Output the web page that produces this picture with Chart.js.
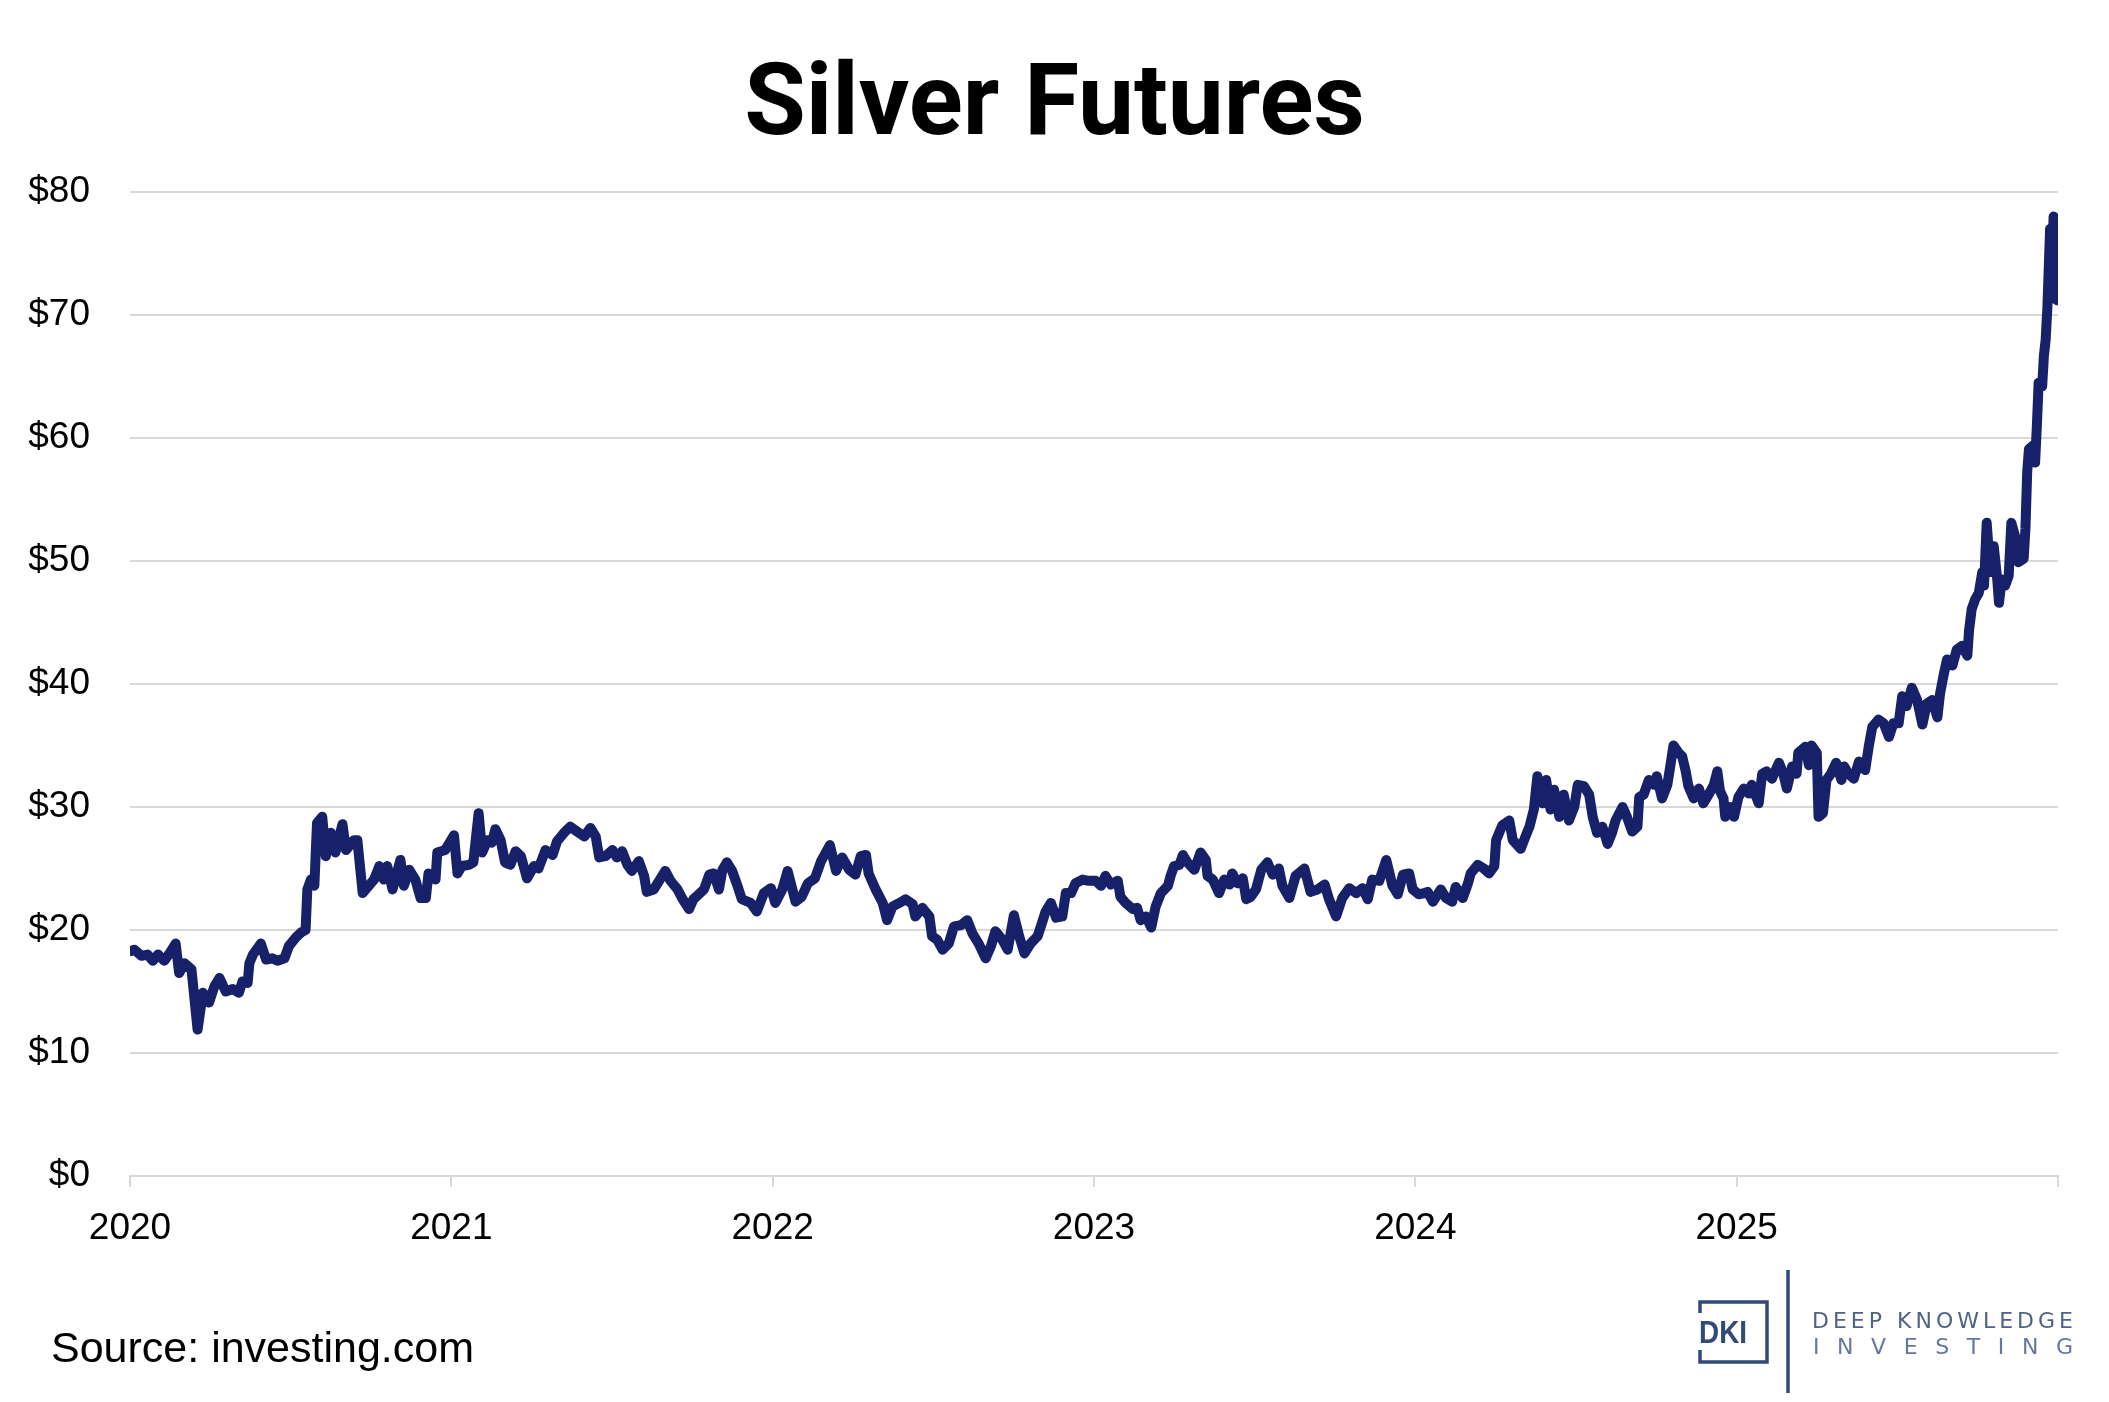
<!DOCTYPE html>
<html>
<head>
<meta charset="utf-8">
<title>Silver Futures</title>
<script src="https://cdn.jsdelivr.net/npm/chart.js@4.4.1/dist/chart.umd.min.js"></script>
<style>
  html, body { margin: 0; padding: 0; background: #fff; }
  canvas { display: block; }
</style>
</head>
<body>
<canvas id="chart" width="2109" height="1402"></canvas>
<script>
// year tick labels (the closing 2026 tick has no label)
const yearLabels = ["2020", "2021", "2022", "2023", "2024", "2025"];

// silver futures, USD/oz (month-day per year)
const days2020 = ["01-02","01-06","01-14","01-21","01-27","02-02","02-09","02-15","02-22","02-26","03-03","03-11","03-18","03-24","03-31","04-06","04-12","04-19","04-27","05-04","05-08","05-14","05-16","05-20","05-29","06-04","06-11","06-17","06-25","06-30","07-08","07-14","07-19","07-21","07-25","07-29","08-01","08-07","08-11","08-17","08-22","08-30","09-03","09-12","09-16","09-22","09-29","10-05","10-11","10-16","10-20","10-26","11-04","11-08","11-14","11-21","11-27","12-03","12-06","12-14","12-16","12-25"];
const price2020 = [18.3,18.4,17.9,18.0,17.5,18.0,17.5,18.1,18.9,16.5,17.3,16.8,11.9,14.9,14.1,15.4,16.1,15.0,15.2,14.9,15.8,15.7,17.3,18.0,18.9,17.6,17.7,17.5,17.7,18.7,19.4,19.8,20.0,23.3,24.1,23.6,28.7,29.2,26.0,27.9,26.3,28.6,26.5,27.3,27.3,23.0,23.6,24.1,25.2,24.1,25.2,23.3,25.7,23.6,24.9,24.1,22.6,22.6,24.6,24.1,26.3,26.5];

const days2021 = ["01-04","01-08","01-13","01-21","01-26","02-01","02-05","02-11","02-16","02-20","02-26","03-03","03-09","03-15","03-21","03-28","04-05","04-10","04-18","04-26","05-01","05-09","05-16","05-24","06-01","06-08","06-14","06-18","06-25","07-03","07-08","07-14","07-20","07-25","08-02","08-08","08-11","08-19","08-25","09-01","09-07","09-15","09-20","09-28","10-03","10-09","10-15","10-21","10-26","11-01","11-05","11-10","11-16","11-22","11-27","12-07","12-14","12-22","12-30"];
const price2021 = [27.7,24.6,25.2,25.3,25.5,29.5,26.3,27.3,27.1,28.2,27.3,25.5,25.3,26.4,26.0,24.2,25.2,25.0,26.5,26.1,27.2,27.9,28.4,28.0,27.6,28.3,27.6,25.9,26.0,26.5,25.9,26.4,25.3,24.8,25.6,24.4,23.1,23.3,24.0,24.8,24.0,23.3,22.6,21.7,22.5,22.9,23.3,24.5,24.6,23.3,24.9,25.5,24.8,23.6,22.5,22.2,21.5,23.0,23.4];

const days2022 = ["01-04","01-12","01-18","01-27","02-03","02-10","02-18","02-25","03-07","03-14","03-21","03-29","04-05","04-11","04-17","04-20","04-28","05-06","05-11","05-17","05-25","06-01","06-09","06-12","06-20","06-28","07-01","07-07","07-13","07-20","07-26","08-03","08-10","08-16","08-23","08-31","09-06","09-11","09-19","09-25","10-02","10-08","10-14","10-21","10-29","11-03","11-07","11-13","11-19","11-26","11-30","12-06","12-11","12-19","12-26"];
const price2022 = [22.2,23.3,24.8,22.3,22.7,23.8,24.2,25.6,26.9,24.8,25.9,24.9,24.5,26.0,26.1,24.6,23.3,22.2,20.8,21.9,22.2,22.5,22.1,21.1,21.8,21.1,19.5,19.2,18.4,18.9,20.3,20.4,20.8,19.7,18.9,17.7,18.7,19.9,19.2,18.4,21.2,19.5,18.1,18.9,19.5,20.6,21.5,22.2,21.0,21.1,23.0,23.0,23.8,24.1,24.0];

const days2023 = ["01-03","01-09","01-14","01-20","01-28","01-31","02-06","02-14","02-19","02-23","03-01","03-07","03-12","03-18","03-26","03-29","04-02","04-08","04-12","04-17","04-25","04-29","05-02","05-08","05-10","05-16","05-23","05-29","06-04","06-07","06-13","06-19","06-23","06-28","07-04","07-10","07-17","07-23","07-30","08-03","08-11","08-18","08-28","09-04","09-12","09-20","09-25","10-03","10-10","10-18","10-26","11-02","11-08","11-13","11-21","11-29","12-06","12-12","12-18","12-25","12-29"];
const price2023 = [24.0,23.6,24.4,23.7,24.0,22.7,22.2,21.7,21.8,20.8,21.1,20.2,21.9,23.0,23.6,24.4,25.2,25.3,26.1,25.5,24.9,25.7,26.3,25.7,24.4,24.1,23.0,24.1,23.7,24.6,23.8,24.2,22.5,22.7,23.3,24.9,25.5,24.5,25.0,23.6,22.6,24.4,25.0,23.1,23.3,23.7,22.5,21.1,22.6,23.4,23.0,23.4,22.5,24.1,24.0,25.7,23.6,22.9,24.5,24.6,23.3];

const days2024 = ["01-05","01-11","01-15","01-21","01-30","02-05","02-12","02-16","02-24","03-01","03-04","03-12","03-19","03-25","03-31","04-02","04-09","04-17","04-21","04-30","05-06","05-10","05-15","05-19","05-25","05-29","06-03","06-07","06-13","06-18","06-24","06-30","07-04","07-11","07-17","07-21","07-26","08-01","08-07","08-12","08-16","08-24","08-29","09-04","09-10","09-12","09-17","09-23","09-29","10-02","10-08","10-14","10-18","10-21","10-27","10-31","11-04","11-07","11-13","11-19","11-24","11-30","12-06","12-10","12-13","12-17","12-19","12-25","12-29"];
const price2024 = [22.9,23.0,23.1,22.3,23.3,22.6,22.3,23.5,22.6,23.8,24.6,25.3,25.0,24.6,25.2,27.3,28.5,28.9,27.3,26.6,27.7,28.4,29.8,32.5,30.3,32.2,29.8,31.4,29.2,31.0,28.9,30.0,31.8,31.7,31.0,29.2,27.9,28.4,27.0,27.9,28.9,30.0,29.2,28.0,28.4,30.8,31.0,32.2,31.8,32.5,30.7,31.8,33.6,35.0,34.4,34.1,32.9,31.7,30.7,31.5,30.3,31.0,31.8,32.9,31.3,30.7,29.2,30.0,29.2];

const days2025 = ["01-03","01-09","01-15","01-18","01-26","01-30","02-04","02-10","02-18","02-23","02-27","03-05","03-10","03-12","03-20","03-24","03-27","04-02","04-04","04-09","04-13","04-18","04-24","04-30","05-03","05-08","05-14","05-20","05-27","05-31","06-04","06-11","06-17","06-23","06-28","07-04","07-08","07-13","07-19","07-25","07-31","08-05","08-11","08-17","08-20","08-24","08-28","09-03","09-08","09-14","09-20","09-22","09-25","09-29","10-03","10-07","10-09","10-12","10-16","10-20","10-24","10-26","10-29","11-02","11-06","11-09","11-14","11-17","11-23","11-25","11-27","11-29","12-04","12-06","12-08","12-10","12-14","12-16","12-18","12-20","12-23","12-25","12-27","12-29","12-31"];
const price2025 = [30.8,31.5,31.1,31.8,30.3,32.7,32.9,32.3,33.6,32.7,31.5,33.3,32.7,34.4,34.9,33.4,35.0,34.4,29.2,29.5,32.2,32.7,33.6,32.2,33.3,32.7,32.3,33.7,33.0,34.9,36.5,37.1,36.8,35.7,36.8,36.8,39.0,38.2,39.7,38.7,36.7,38.4,38.7,37.3,39.2,40.7,42.0,41.5,42.8,43.1,42.3,44.4,46.1,46.9,47.4,49.1,48.0,53.1,49.1,51.2,48.5,46.6,48.5,48.0,48.8,53.1,51.8,49.9,50.2,52.6,57.2,59.1,59.4,58.0,61.0,64.5,64.2,66.7,68.0,70.7,77.0,73.7,78.0,71.3,71.2];

// month-day inside a year -> position on a linear year axis
function yearPos(year, md) {
  const [m, d] = md.split("-").map(Number);
  const start = Date.UTC(year, 0, 1);
  const end = Date.UTC(year + 1, 0, 1);
  return year + (Date.UTC(year, m - 1, d) - start) / (end - start);
}

const yearly = [
  [2020, days2020, price2020],
  [2021, days2021, price2021],
  [2022, days2022, price2022],
  [2023, days2023, price2023],
  [2024, days2024, price2024],
  [2025, days2025, price2025],
];
const points = [];
yearly.forEach(([yr, days, prices]) => {
  days.forEach((md, i) => points.push({ x: yearPos(yr, md), y: prices[i] }));
});

const tickFont = { family: "'Liberation Sans', Arial, sans-serif", size: 37 };
const gridGrey = "#d9d9d9";

// source line and the DKI logo under the plot
const footer = {
  id: "footer",
  afterDraw(chart) {
    const c = chart.ctx;
    c.save();
    c.fillStyle = "#000";
    c.textBaseline = "alphabetic";
    c.textAlign = "left";
    c.font = "43px 'Liberation Sans', Arial, sans-serif";
    c.fillText("Source: investing.com", 51, 1362);

    const navy = "#2f4b76";
    c.strokeStyle = navy;
    c.lineWidth = 3.5;
    c.beginPath();
    c.moveTo(1700, 1313); c.lineTo(1700, 1302); c.lineTo(1767, 1302);
    c.lineTo(1767, 1362); c.lineTo(1700, 1362); c.lineTo(1700, 1350);
    c.moveTo(1788, 1270); c.lineTo(1788, 1393);
    c.stroke();

    c.fillStyle = navy;
    c.font = "bold 32px 'Liberation Sans', Arial, sans-serif";
    c.fillText("DKI", 1699, 1343, 48);

    const spaced = (text, x0, x1, y) => {
      const chars = text.split("");
      const widths = chars.map(ch => c.measureText(ch).width);
      const total = widths.reduce((a, b) => a + b, 0);
      const gap = (x1 - x0 - total) / (chars.length - 1);
      let x = x0;
      chars.forEach((ch, i) => { c.fillText(ch, x, y); x += widths[i] + gap; });
    };
    c.fillStyle = "#4f6388";
    c.font = "22px 'DejaVu Sans', sans-serif";
    spaced("DEEP KNOWLEDGE", 1812, 2073, 1328);
    c.fillStyle = "#65779a";
    spaced("INVESTING", 1813, 2073, 1354);
    c.restore();
  }
};

new Chart(document.getElementById("chart"), {
  type: "line",
  data: {
    datasets: [{
      label: "Silver Futures",
      data: points,
      borderColor: "#17216a",
      borderWidth: 10,
      pointRadius: 0,
      tension: 0,
      borderJoinStyle: "round",
      borderCapStyle: "round",
      fill: false,
    }],
  },
  options: {
    responsive: false,
    animation: false,
    devicePixelRatio: 1,
    layout: { padding: { left: 0, right: 0, top: 0, bottom: 153 } },
    plugins: {
      legend: { display: false },
      tooltip: { enabled: false },
      title: {
        display: true,
        text: "Silver Futures",
        color: "#000",
        font: { family: "Roboto, 'Liberation Sans', sans-serif", size: 100, weight: "bold" },
        padding: { top: 49, bottom: 23 },
      },
    },
    scales: {
      x: {
        type: "linear",
        min: 2020,
        max: 2026,
        ticks: {
          stepSize: 1,
          autoSkip: false,
          maxRotation: 0,
          padding: 20,
          color: "#000",
          font: tickFont,
          callback: (v) => yearLabels[Math.round(v) - 2020] || "",
        },
        grid: { drawOnChartArea: false, drawTicks: true, tickLength: 11, color: gridGrey, lineWidth: 2 },
        border: { display: true, color: gridGrey, width: 2 },
        afterFit: (s) => { s.height = 73; },
      },
      y: {
        min: 0,
        max: 80,
        ticks: {
          stepSize: 10,
          padding: 40,
          color: "#000",
          font: tickFont,
          callback: (v) => "$" + v,
        },
        grid: { color: gridGrey, lineWidth: 2, drawTicks: false },
        border: { display: false },
        afterFit: (s) => { s.width = 130; },
      },
      // empty right-hand margin so the title stays centred on the page
      margin: {
        position: "right",
        grid: { display: false, drawTicks: false },
        border: { display: false },
        ticks: { display: false },
        afterFit: (s) => { s.width = 51; },
      },
    },
  },
  plugins: [footer],
});
</script>
</body>
</html>
